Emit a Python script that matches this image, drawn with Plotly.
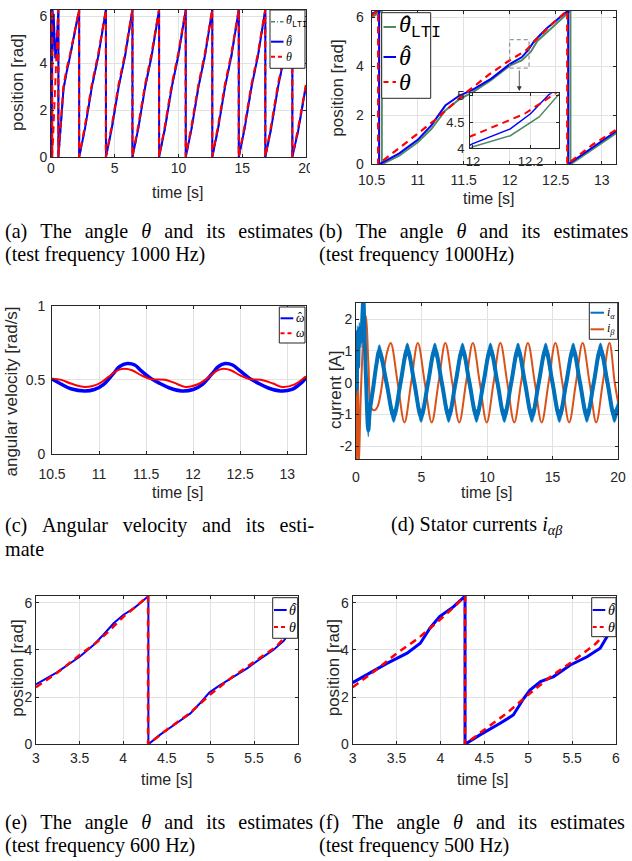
import plotly.graph_objects as go

W, H = 632, 861
TWO_PI = 6.2832

# ---------------- (a) angle and estimates, 0..20 s ----------------
a_true_t = [0.0, 0.1, 0.1, 0.57, 0.57, 0.8, 0.97, 1.2, 1.5, 2.2,
            2.2, 2.65, 3.2, 3.7, 4.3,
            4.3, 4.75, 5.3, 5.8, 6.38,
            6.38, 6.83, 7.38, 7.88, 8.47,
            8.47, 8.92, 9.47, 9.97, 10.56,
            10.56, 11.01, 11.56, 12.06, 12.64,
            12.64, 13.09, 13.64, 14.14, 14.72,
            14.72, 15.17, 15.72, 16.22, 16.8,
            16.8, 17.25, 17.8, 18.3, 18.92,
            18.92, 19.37, 19.82, 20.0]
a_true_v = [5.4, 6.28, 0.0, 6.28, 0.0, 1.6, 3.0, 3.7, 4.4, 6.28,
            0.0, 1.3, 3.1, 4.4, 6.28,
            0.0, 1.3, 3.1, 4.4, 6.28,
            0.0, 1.3, 3.1, 4.4, 6.28,
            0.0, 1.3, 3.1, 4.4, 6.28,
            0.0, 1.3, 3.1, 4.4, 6.28,
            0.0, 1.3, 3.1, 4.4, 6.28,
            0.0, 1.3, 3.1, 4.4, 6.28,
            0.0, 1.3, 3.1, 4.4, 6.28,
            0.0, 1.2, 2.7, 3.1]
a_hat_t = [0.0, 0.04, 0.04, 0.12, 0.12, 0.2, 0.28, 0.35, 0.45, 0.58,
           0.58, 0.8, 0.98, 1.22, 1.5, 2.21,
           2.21, 2.66, 3.21, 3.71, 4.31,
           4.31, 4.76, 5.31, 5.81, 6.39,
           6.39, 6.84, 7.39, 7.89, 8.48,
           8.48, 8.93, 9.48, 9.98, 10.57,
           10.57, 11.02, 11.57, 12.07, 12.65,
           12.65, 13.1, 13.65, 14.15, 14.73,
           14.73, 15.18, 15.73, 16.23, 16.81,
           16.81, 17.26, 17.81, 18.31, 18.93,
           18.93, 19.38, 19.83, 20.0]
a_hat_v = [0.0, 6.28, 0.0, 6.28, 4.5, 6.1, 5.0, 4.2, 4.8, 6.28,
           0.0, 1.5, 2.9, 3.6, 4.3, 6.28,
           0.0, 1.2, 3.0, 4.3, 6.28,
           0.0, 1.2, 3.0, 4.3, 6.28,
           0.0, 1.2, 3.0, 4.3, 6.28,
           0.0, 1.2, 3.0, 4.3, 6.28,
           0.0, 1.2, 3.0, 4.3, 6.28,
           0.0, 1.2, 3.0, 4.3, 6.28,
           0.0, 1.2, 3.0, 4.3, 6.28,
           0.0, 1.2, 3.0, 4.3, 6.28,
           0.0, 1.1, 2.6, 3.05]
a_lti_t = a_hat_t
a_lti_v = a_hat_v

# ---------------- (b) zoom 10.5..13.2 s ----------------
b_true_t = [10.5, 10.57, 10.57, 10.78, 11.0, 11.2, 11.34, 11.5, 11.77, 11.98,
            12.18, 12.25, 12.3, 12.48, 12.625, 12.625, 12.9, 13.16]
b_true_v = [6.08, 6.28, 0.0, 0.6, 1.25, 1.85, 2.3, 2.85, 3.65, 4.2,
            4.66, 4.95, 5.15, 5.8, 6.28, 0.0, 0.8, 1.42]
b_hat_t = [10.5, 10.58, 10.58, 10.8, 11.0, 11.15, 11.3, 11.45, 11.6, 11.8,
           12.0, 12.13, 12.2, 12.265, 12.4, 12.5, 12.635, 12.635, 12.9, 13.16]
b_hat_v = [6.15, 6.28, 0.0, 0.45, 1.0, 1.6, 2.4, 2.8, 3.05, 3.5,
           4.09, 4.37, 4.66, 5.03, 5.55, 5.85, 6.28, 0.0, 0.7, 1.36]
b_lti_t = [10.5, 10.61, 10.61, 10.8, 11.0, 11.15, 11.3, 11.45, 11.6, 11.8,
           12.0, 12.13, 12.23, 12.3, 12.45, 12.55, 12.66, 12.66, 12.9, 13.16]
b_lti_v = [6.0, 6.28, 0.0, 0.35, 0.9, 1.45, 2.2, 2.65, 2.95, 3.45,
           4.03, 4.24, 4.6, 5.04, 5.55, 5.9, 6.28, 0.0, 0.6, 1.28]
b_zoom_box_t = [12.0, 12.21]
b_zoom_box_v = [3.93, 5.09]

# ---------------- (c) angular velocity ----------------
c_hat_t = [10.5, 10.6, 10.7, 10.85, 10.95, 11.05, 11.15, 11.22, 11.3, 11.38, 11.45,
           11.55, 11.65, 11.75, 11.88, 12.0, 12.1, 12.2, 12.27, 12.34, 12.42, 12.5,
           12.6, 12.7, 12.8, 12.93, 13.05, 13.15, 13.2]
c_hat_v = [0.505, 0.47, 0.44, 0.425, 0.435, 0.47, 0.54, 0.59, 0.61, 0.6, 0.56,
           0.51, 0.475, 0.445, 0.425, 0.435, 0.47, 0.54, 0.59, 0.61, 0.6, 0.56,
           0.51, 0.475, 0.445, 0.425, 0.435, 0.48, 0.515]
c_true_t = [10.5, 10.6, 10.7, 10.85, 11.0, 11.1, 11.2, 11.27, 11.35, 11.45, 11.55,
            11.7, 11.8, 11.92, 12.05, 12.15, 12.25, 12.32, 12.4, 12.5, 12.6, 12.72,
            12.85, 12.95, 13.08, 13.2]
c_true_v = [0.508, 0.5, 0.475, 0.452, 0.475, 0.52, 0.565, 0.575, 0.565, 0.53, 0.505,
            0.5, 0.48, 0.452, 0.47, 0.51, 0.56, 0.575, 0.565, 0.53, 0.505, 0.5,
            0.475, 0.452, 0.47, 0.525]

# ---------------- (d) stator currents ----------------
d_ia_t = [0.0, 0.05, 0.1, 0.16, 0.25, 0.38, 0.5, 0.56, 0.62, 0.75, 0.94, 1.05, 1.3, 1.55,
          1.78, 2.33, 2.88, 3.4, 3.92, 4.45, 4.97, 5.5, 6.02, 6.55, 7.08, 7.6, 8.13, 8.66,
          9.2, 9.73, 10.26, 10.8, 11.32, 11.85, 12.37, 12.9, 13.43, 13.95, 14.48, 15.0,
          15.53, 16.05, 16.58, 17.1, 17.63, 18.15, 18.66, 19.2, 19.72, 20.0]
d_ia_v = [0.3, -0.2, 1.6, 0.5, 1.7, 1.3, 2.2, 2.7, 2.0, 0.3, -1.5, -0.9, -0.2, 0.55,
          1.0, 0.0, -1.05, 0.0, 1.05, 0.0, -1.05, 0.0, 1.05, 0.0, -1.05, 0.0, 1.05, 0.0,
          -1.05, 0.0, 1.05, 0.0, -1.05, 0.0, 1.05, 0.0, -1.05, 0.0, 1.05, 0.0,
          -1.05, 0.0, 1.05, 0.0, -1.05, 0.0, 1.05, 0.0, -1.05, -0.75]
d_ia_noise = 0.2  # half-width of the high-frequency ripple band
d_ib_t = [0.0, 0.04, 0.07, 0.12, 0.17, 0.22, 0.35, 0.55, 0.76, 0.95, 1.2, 1.45, 1.65,
          1.9, 2.15, 2.4, 2.65, 3.18, 3.7, 4.21, 4.72, 5.25, 5.78, 6.3, 6.82, 7.35,
          7.88, 8.4, 8.92, 9.45, 9.98, 10.5, 11.02, 11.55, 12.08, 12.6, 13.12, 13.65,
          14.17, 14.7, 15.22, 15.75, 16.27, 16.79, 17.3, 17.83, 18.34, 18.84, 19.35,
          19.75, 20.0]
d_ib_v = [0.0, -1.2, -2.6, 0.6, -0.5, -2.6, -0.6, 1.3, 2.1, 0.6, -0.82, -0.86, -0.75,
          -0.3, 0.45, 1.0, 1.25, 0.0, -1.25, 0.0, 1.25, 0.0, -1.25, 0.0, 1.25, 0.0,
          -1.25, 0.0, 1.25, 0.0, -1.25, 0.0, 1.25, 0.0, -1.25, 0.0, 1.25, 0.0,
          -1.25, 0.0, 1.25, 0.0, -1.25, 0.0, 1.25, 0.0, -1.25, 0.0, 1.25,
          0.0, -0.6]

# ---------------- (e) 600 Hz ----------------
e_hat_t = [3.0, 3.24, 3.5, 3.66, 3.77, 3.89, 4.0, 4.12, 4.2, 4.288, 4.288, 4.42, 4.61,
           4.77, 4.88, 4.99, 5.11, 5.26, 5.42, 5.57, 5.72, 5.84, 6.0]
e_hat_v = [2.54, 3.05, 3.71, 4.21, 4.63, 5.13, 5.48, 5.76, 6.0, 6.28, 0.0, 0.4, 0.89,
           1.31, 1.74, 2.2, 2.51, 2.87, 3.22, 3.62, 4.0, 4.38, 5.2]
e_true_t = [3.0, 3.25, 3.5, 3.7, 3.85, 4.0, 4.15, 4.285, 4.285, 4.5, 4.75, 5.0, 5.25,
            5.5, 5.75, 6.0]
e_true_v = [2.42, 3.05, 3.78, 4.33, 4.85, 5.4, 5.85, 6.28, 0.0, 0.62, 1.28, 2.12, 2.85,
            3.5, 4.13, 5.1]

# ---------------- (f) 500 Hz ----------------
f_hat_t = [3.0, 3.39, 3.62, 3.77, 3.88, 3.99, 4.15, 4.28, 4.28, 4.45, 4.68, 4.83, 4.95,
           5.02, 5.14, 5.29, 5.48, 5.67, 5.82, 5.97, 6.0]
f_hat_v = [2.61, 3.43, 3.86, 4.28, 4.92, 5.41, 5.83, 6.28, 0.0, 0.4, 0.89, 1.24, 1.95,
           2.3, 2.66, 2.87, 3.36, 3.71, 4.07, 5.0, 5.2]
f_true_t = [3.0, 3.25, 3.5, 3.75, 4.0, 4.15, 4.28, 4.28, 4.5, 4.75, 5.0, 5.25, 5.5,
            5.75, 6.0]
f_true_v = [2.42, 3.1, 3.85, 4.5, 5.3, 5.8, 6.28, 0.0, 0.62, 1.3, 2.1, 2.85, 3.5,
            4.2, 5.1]

# ---------------- ticks ----------------
pos_yticks = [0, 2, 4, 6]
pos_yticklabels = ["0", "2", "4", "6"]
t20_ticks = [0, 5, 10, 15, 20]
t20_labels = ["0", "5", "10", "15", "20"]
zoom_ticks = [10.5, 11, 11.5, 12, 12.5, 13]
zoom_labels = ["10.5", "11", "11.5", "12", "12.5", "13"]
vel_yticks = [0, 0.5, 1]
vel_ylabels = ["0", "0.5", "1"]
cur_yticks = [-2, -1, 0, 1, 2]
cur_ylabels = ["-2", "-1", "0", "1", "2"]
ef_ticks = [3, 3.5, 4, 4.5, 5, 5.5, 6]
ef_labels = ["3", "3.5", "4", "4.5", "5", "5.5", "6"]
inset_xticks = [12, 12.2]
inset_xlabels = ["12", "12.2"]
inset_yticks = [4, 4.5, 5]
inset_ylabels = ["4", "4.5", "5"]

captions = [
    ["(a) The angle <i>θ</i> and its estimates", "(test frequency 1000 Hz)"],
    ["(b) The angle <i>θ</i> and its estimates", "(test frequency 1000Hz)"],
    ["(c) Angular velocity and its esti-", "mate"],
    ["(d) Stator currents <i>i</i><sub><i>αβ</i></sub>"],
    ["(e) The angle <i>θ</i> and its estimates", "(test frequency 600 Hz)"],
    ["(f) The angle <i>θ</i> and its estimates", "(test frequency 500 Hz)"],
]

# ---------------- styling ----------------
BLUE, RED, GREEN = "#0000FF", "#FF0000", "#4E8A62"
M_BLUE, M_ORANGE = "#0072BD", "#D95319"
AX_COLOR = "#262626"
GRID = "#E2E2E2"
NARROW = "Liberation Sans Narrow, Arial Narrow, Liberation Sans, Arial, sans-serif"
SANS = "Liberation Sans, Arial, sans-serif"
SERIF = "Liberation Serif, Times New Roman, serif"
RDASH = "7px,5px"


def X(px):
    return px / W


def Y(py):
    return 1 - py / H


fig = go.Figure()


def add_line(x, y, n, color, width, dash="solid", shape="linear", **kw):
    sfx = "" if n == 1 else str(n)
    fig.add_trace(go.Scatter(x=x, y=y, xaxis="x" + sfx, yaxis="y" + sfx, mode="lines",
                             line=dict(color=color, width=width, dash=dash, shape=shape),
                             hoverinfo="skip", showlegend=False, **kw))


layout_axes = {}


def make_axes(n, xpx, ypx, xr, yr, xt, xtl, yt, ytl, fs=14, xstand=0, ystand=0):
    sfx = "" if n == 1 else str(n)
    common = dict(showline=True, linecolor=AX_COLOR, linewidth=1, mirror="ticks",
                  ticks="inside", ticklen=3, tickcolor=AX_COLOR, showgrid=True,
                  gridcolor=GRID, gridwidth=1, zeroline=False, fixedrange=True,
                  automargin=False,
                  tickfont=dict(family=NARROW, size=fs, color=AX_COLOR), tickmode="array")
    layout_axes["xaxis" + sfx] = dict(common, domain=[X(xpx[0]), X(xpx[1])], range=xr,
                                      tickvals=xt, ticktext=xtl, anchor="y" + sfx,
                                      ticklabelstandoff=xstand)
    layout_axes["yaxis" + sfx] = dict(common, domain=[Y(ypx[1]), Y(ypx[0])], range=yr,
                                      tickvals=yt, ticktext=ytl, anchor="x" + sfx,
                                      ticklabelstandoff=ystand)


make_axes(1, (51, 306), (9.5, 157), [0, 20], [0, TWO_PI], t20_ticks, t20_labels,
          pos_yticks, pos_yticklabels, xstand=-2, ystand=0)
make_axes(2, (371.7, 616), (10.5, 164.3), [10.5, 13.155], [0, TWO_PI], zoom_ticks, zoom_labels,
          pos_yticks, pos_yticklabels, xstand=3, ystand=4)
make_axes(3, (52, 306), (305.7, 454), [10.5, 13.2], [0, 1], zoom_ticks, zoom_labels,
          vel_yticks, vel_ylabels, xstand=7, ystand=3)
make_axes(4, (356, 618), (302.7, 459.3), [0, 20], [-2.41, 2.52], t20_ticks, t20_labels,
          cur_yticks, cur_ylabels, xstand=5, ystand=0)
make_axes(5, (36, 297.7), (596, 744.3), [3, 6], [0, TWO_PI], ef_ticks, ef_labels,
          pos_yticks, pos_yticklabels, xstand=1, ystand=0)
make_axes(6, (352.7, 616), (596, 744.3), [3, 6], [0, TWO_PI], ef_ticks, ef_labels,
          pos_yticks, pos_yticklabels, xstand=1, ystand=0)
make_axes(7, (470, 559.3), (93.3, 148.3), [11.99, 12.3], [4, 5.05], inset_xticks, inset_xlabels,
          inset_yticks, inset_ylabels, fs=13, xstand=1, ystand=2)

# (a)
add_line(a_lti_t, a_lti_v, 1, GREEN, 2, "6px,3px,2px,3px")
add_line(a_hat_t, a_hat_v, 1, BLUE, 2)
add_line(a_true_t, a_true_v, 1, RED, 2, RDASH)
# (b)
add_line(b_lti_t, b_lti_v, 2, GREEN, 2)
add_line(b_hat_t, b_hat_v, 2, BLUE, 2)
add_line(b_true_t, b_true_v, 2, RED, 2.2, RDASH)
# (c)
add_line(c_hat_t, c_hat_v, 3, BLUE, 3.5, shape="spline")
add_line(c_true_t, c_true_v, 3, RED, 2, shape="spline")
# (d)
add_line(d_ib_t, d_ib_v, 4, M_ORANGE, 2, shape="spline")
add_line(d_ia_t, [v + d_ia_noise for v in d_ia_v], 4, M_BLUE, 0.5, shape="spline")
add_line(d_ia_t, [v - d_ia_noise for v in d_ia_v], 4, M_BLUE, 0.5, shape="spline",
         fill="tonexty", fillcolor=M_BLUE)
add_line(d_ia_t, d_ia_v, 4, M_BLUE, 4, shape="spline")
# (e)
add_line(e_hat_t, e_hat_v, 5, BLUE, 2)
add_line(e_true_t, e_true_v, 5, RED, 2.5, RDASH)
# (f)
add_line(f_hat_t, f_hat_v, 6, BLUE, 3)
add_line(f_true_t, f_true_v, 6, RED, 2.5, RDASH)
# inset of (b)
add_line(b_lti_t, b_lti_v, 7, GREEN, 1.5)
add_line(b_hat_t, b_hat_v, 7, BLUE, 1.5)
add_line(b_true_t, b_true_v, 7, RED, 2, RDASH)

shapes = []
annotations = []

# zoom box and arrow in (b)
shapes.append(dict(type="rect", xref="x2", yref="y2", x0=b_zoom_box_t[0], x1=b_zoom_box_t[1],
                   y0=b_zoom_box_v[0], y1=b_zoom_box_v[1],
                   line=dict(color="#7F7F7F", width=1, dash="4px,3px")))
annotations.append(dict(xref="paper", yref="paper", x=X(519.3), y=Y(91), ax=0, ay=-22,
                        axref="pixel", ayref="pixel", text="", showarrow=True, arrowhead=2,
                        arrowsize=1.2, arrowwidth=0.8, arrowcolor="#333333"))


def text(xp, yp, s, fs, family=SERIF, color="black", xanchor="left", **kw):
    annotations.append(dict(xref="paper", yref="paper", x=X(xp), y=Y(yp), text=s,
                            showarrow=False, xanchor=xanchor, yanchor="middle",
                            font=dict(family=family, size=fs, color=color), **kw))


def legend(box, entries, lx, tx, fs):
    shapes.append(dict(type="rect", xref="paper", yref="paper", x0=X(box[0]), x1=X(box[1]),
                       y0=Y(box[3]), y1=Y(box[2]), fillcolor="white",
                       line=dict(color=AX_COLOR, width=1), layer="above"))
    for label, hat, sub, color, dash, width, ypx in entries:
        shapes.append(dict(type="line", xref="paper", yref="paper", x0=X(lx[0]), x1=X(lx[1]),
                           y0=Y(ypx), y1=Y(ypx), line=dict(color=color, width=width, dash=dash),
                           layer="above"))
        text(tx, ypx, label + sub, fs)
        if hat:
            text(tx + 0.2 * fs, ypx - 0.12 * fs, "ˆ", fs)


MONO_SUB = "<sub><span style='font-family:Liberation Mono'>LTI</span></sub>"

legend((270, 305, 10, 68.3), [("<i>θ</i>", True, MONO_SUB, GREEN, "4px,2px,1px,2px", 1.5, 21.7),
                              ("<i>θ</i>", True, "", BLUE, "solid", 2, 41.7),
                              ("<i>θ</i>", False, "", RED, "4px,3px", 2, 56.7)], (271, 283.5), 284, 12)
legend((381.7, 430.7, 12.7, 98.3), [("<i>θ</i>", True, MONO_SUB, GREEN, "solid", 2, 27),
                                    ("<i>θ</i>", True, "", BLUE, "solid", 2, 57),
                                    ("<i>θ</i>", False, "", RED, "5px,4px", 2, 82)], (383.5, 396), 396.5, 24)
legend((279.3, 305, 307, 343), [("<i>ω</i>", True, "", BLUE, "solid", 2, 318.3),
                                ("<i>ω</i>", False, "", RED, "4px,3px", 2, 333.3)], (280.5, 293.3), 294, 12)
legend((589.3, 617.7, 302.7, 339.3), [("<i>i</i>", False, "<sub><i>α</i></sub>", M_BLUE, "solid", 2, 312.7),
                                      ("<i>i</i>", False, "<sub><i>β</i></sub>", M_ORANGE, "solid", 2, 329.3)],
       (590.5, 604), 605, 12)
legend((272.7, 297.7, 597.7, 638.3), [("<i>θ</i>", True, "", BLUE, "solid", 2, 610),
                                      ("<i>θ</i>", False, "", RED, "4px,3px", 2, 627)], (274, 286.7), 287, 14)
legend((591.7, 616, 597.7, 636.7), [("<i>θ</i>", True, "", BLUE, "solid", 2, 610),
                                    ("<i>θ</i>", False, "", RED, "4px,3px", 2, 627)], (592.7, 605.3), 606, 14)

# white patch to crop the "20" label of (a) like the original figure
shapes.append(dict(type="rect", xref="paper", yref="paper", x0=X(310), x1=X(321),
                   y0=Y(182), y1=Y(158), fillcolor="white", line=dict(width=0), layer="above"))

# axis titles
xlabels = [(178, 193), (489.3, 198), (178.3, 493), (486.7, 493), (166.7, 779), (483.3, 779)]
for (xp, yp) in xlabels:
    text(xp, yp, "time [s]", 16, family=NARROW, color=AX_COLOR, xanchor="center")
ylabels = [(18, 83, "position [rad]"), (336.7, 88, "position [rad]"),
           (10.5, 392, "angular velocity [rad/s]"), (335, 390, "current [A]"),
           (16.7, 668, "position [rad]"), (333.3, 668, "position [rad]")]
for (xp, yp, txt) in ylabels:
    text(xp, yp, txt, 17, family=SANS, color=AX_COLOR, xanchor="center", textangle=-90)

# captions (first lines justified with thin spaces)
SP = " \u2009\u2009"
SPC = " \u2009\u2009\u200a"
cap_pos = [(3, 231), (317, 231), (3, 525), (476, 525), (3, 822), (317, 822)]
for i, (lines, (xp, yp)) in enumerate(zip(captions, cap_pos)):
    for j, line in enumerate(lines):
        txt = line
        if j == 0 and len(lines) > 1:
            txt = line.replace(" ", SPC if i == 2 else SP)
        text(xp, yp + 23.5 * j, txt, 20.1, xanchor="center" if i == 3 else "left")

fig.update_layout(template="none", width=W, height=H,
                  margin=dict(l=0, r=0, t=0, b=0, pad=0, autoexpand=False),
                  paper_bgcolor="white", plot_bgcolor="white", showlegend=False,
                  shapes=shapes, annotations=annotations, **layout_axes)

fig.write_html("out.html", config={"displayModeBar": False},
               post_script=("document.documentElement.style.margin='0px';"
                            "document.body.style.margin='0px';document.body.style.padding='0px';"
                            "document.documentElement.style.overflow='hidden';"
                            "document.body.style.overflow='hidden';"))
